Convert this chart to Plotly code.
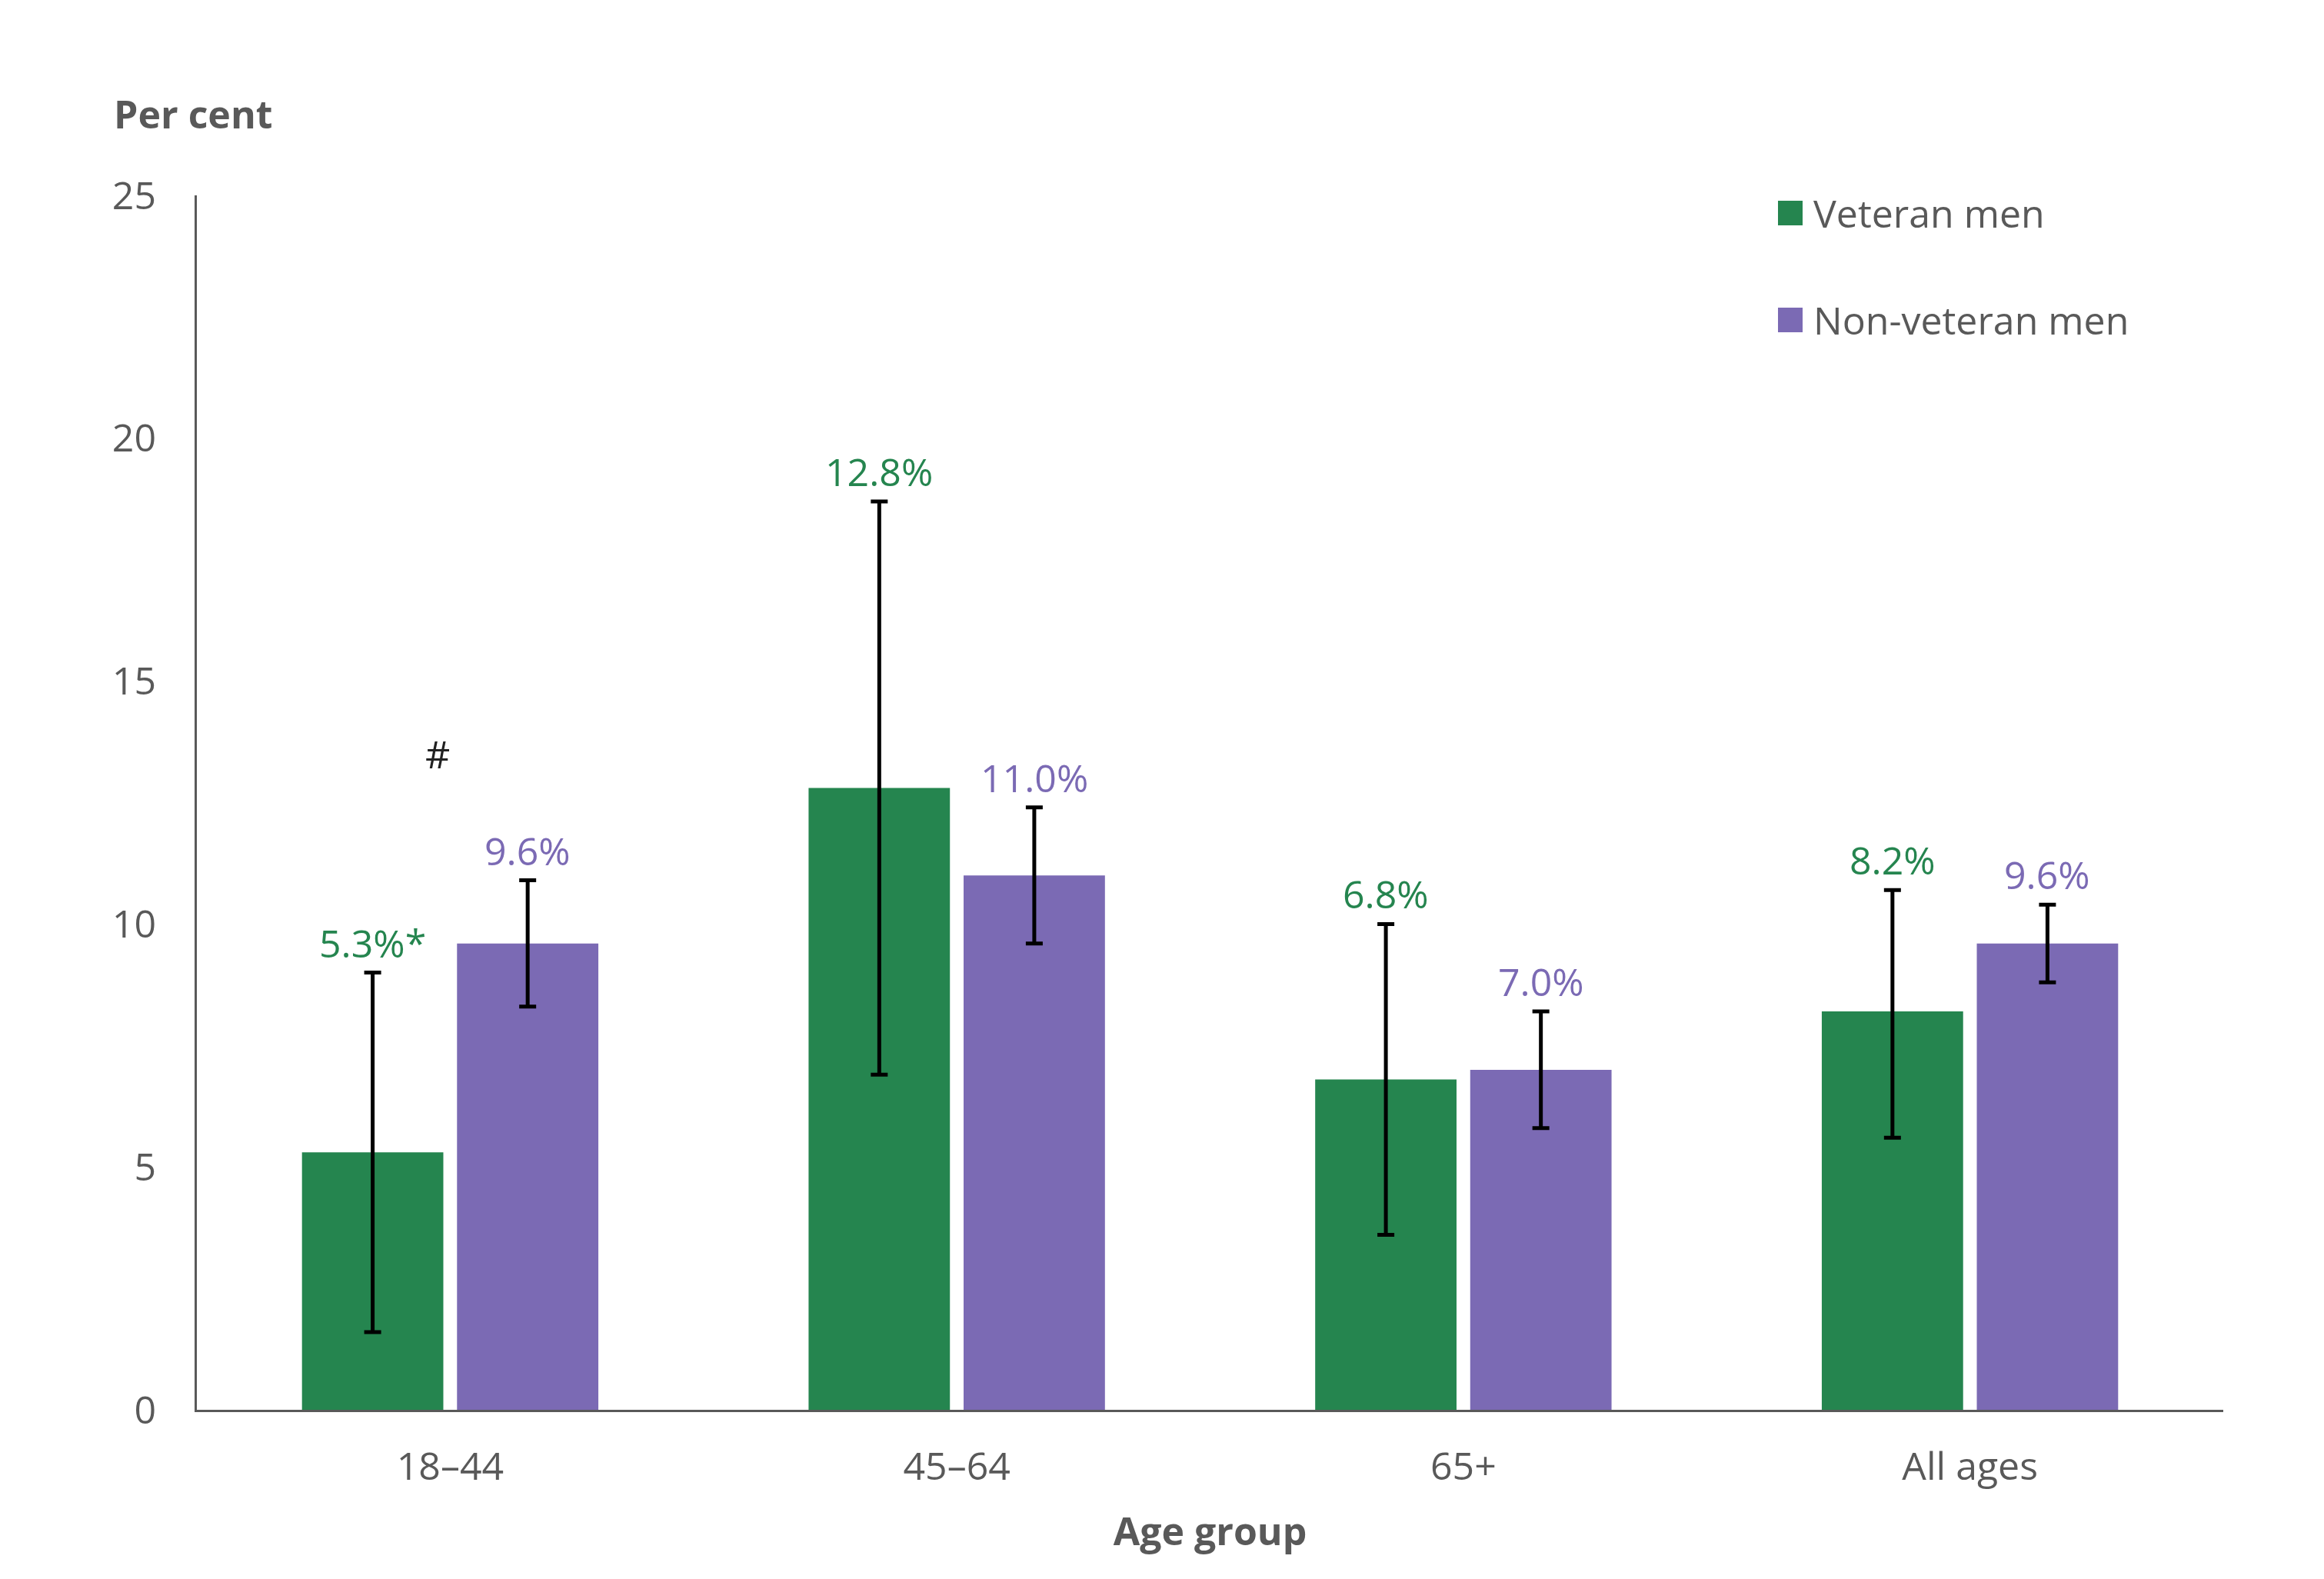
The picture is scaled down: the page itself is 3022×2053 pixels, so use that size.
import plotly.graph_objects as go
import numpy as np

categories = ["18–44", "45–64", "65+", "All ages"]
series_names = ["Veteran men", "Non-veteran men"]
veteran = [5.3, 12.8, 6.8, 8.2]
veteran_upper = [9.0, 18.7, 10.0, 10.7]
veteran_lower = [1.6, 6.9, 3.6, 5.6]
nonveteran = [9.6, 11.0, 7.0, 9.6]
nonveteran_upper = [10.9, 12.4, 8.2, 10.4]
nonveteran_lower = [8.3, 9.6, 5.8, 8.8]
veteran_labels = ["5.3%*", "12.8%", "6.8%", "8.2%"]
nonveteran_labels = ["9.6%", "11.0%", "7.0%", "9.6%"]
y_ticks = [0, 5, 10, 15, 20, 25]
hash_note = {"category": 0, "y": 13.5, "text": "#"}

GREEN = "#25854F"
PURPLE = "#7B6AB4"
GREY = "#595959"
FONT = "Open Sans"
FS = 50

x = np.arange(len(categories))
bw = 0.279
shift = 0.153

fig = go.Figure()
series = [
    (series_names[0], veteran, veteran_upper, veteran_lower, veteran_labels, GREEN, -shift),
    (series_names[1], nonveteran, nonveteran_upper, nonveteran_lower, nonveteran_labels, PURPLE, shift),
]
for name, vals, up, lo, labels, col, sh in series:
    vals = np.array(vals); up = np.array(up); lo = np.array(lo)
    fig.add_trace(go.Bar(
        x=x, y=vals, name=name, width=bw, offset=sh - bw / 2,
        marker=dict(color=col, line=dict(width=0)),
        error_y=dict(type="data", symmetric=False, array=up - vals, arrayminus=vals - lo,
                     color="black", thickness=5, width=11),
        showlegend=False,
    ))
    for i in range(len(categories)):
        fig.add_annotation(x=x[i] + sh, y=up[i], text=labels[i], showarrow=False,
                           xref="x", yref="y", yanchor="bottom", yshift=3,
                           font=dict(family=FONT, size=FS, color=col))

fig.add_annotation(x=x[hash_note["category"]] - 0.025, y=hash_note["y"], text=hash_note["text"],
                   showarrow=False, xref="x", yref="y",
                   font=dict(family=FONT, size=FS, color="#222222"))

# legend (manual)
leg_x0, leg_x1 = 2312, 2344
leg_ys = [277, 416]
W, H = 3022, 2053
PW, PH = W - 256 - 131, H - 254 - 220
for name, col, yc in [(series_names[0], GREEN, leg_ys[0]), (series_names[1], PURPLE, leg_ys[1])]:
    fig.add_shape(type="rect", xref="paper", yref="paper",
                  x0=(leg_x0 - 256) / PW, x1=(leg_x1 - 256) / PW,
                  y0=(H - 220 - (yc + 16)) / PH, y1=(H - 220 - (yc - 16)) / PH,
                  fillcolor=col, line=dict(width=0))
    fig.add_annotation(x=(2356 - 256) / PW, y=(H - 220 - yc) / PH,
                       xref="paper", yref="paper", xanchor="left", yanchor="middle",
                       text=name, showarrow=False,
                       font=dict(family=FONT, size=FS, color=GREY))

fig.add_annotation(x=(146 - 256) / PW, y=(H - 220 - 148) / PH,
                   xref="paper", yref="paper", xanchor="left", yanchor="middle",
                   text="<b>Per cent</b>", showarrow=False,
                   font=dict(family=FONT, size=FS, color=GREY))

fig.update_layout(
    width=W, height=H,
    margin=dict(l=256, r=131, t=254, b=220),
    plot_bgcolor="white", paper_bgcolor="white",
    font=dict(family=FONT, size=FS, color=GREY),
    xaxis=dict(range=[-0.5, len(categories) - 0.5], tickvals=x, ticktext=categories,
               showgrid=False, zeroline=False, showline=True, linecolor=GREY, linewidth=3,
               ticks="", ticklabelstandoff=28, tickfont=dict(family=FONT, size=FS, color=GREY),
               title=dict(text="<b>Age group</b>", standoff=36,
                          font=dict(family=FONT, size=FS, color=GREY))),
    yaxis=dict(range=[0, 25], tickvals=y_ticks, showgrid=False, zeroline=False,
               showline=True, linecolor=GREY, linewidth=3, ticks="",
               ticklabelstandoff=40, tickfont=dict(family=FONT, size=FS, color=GREY)),
    showlegend=False,
)

fig.write_html("out.html")
